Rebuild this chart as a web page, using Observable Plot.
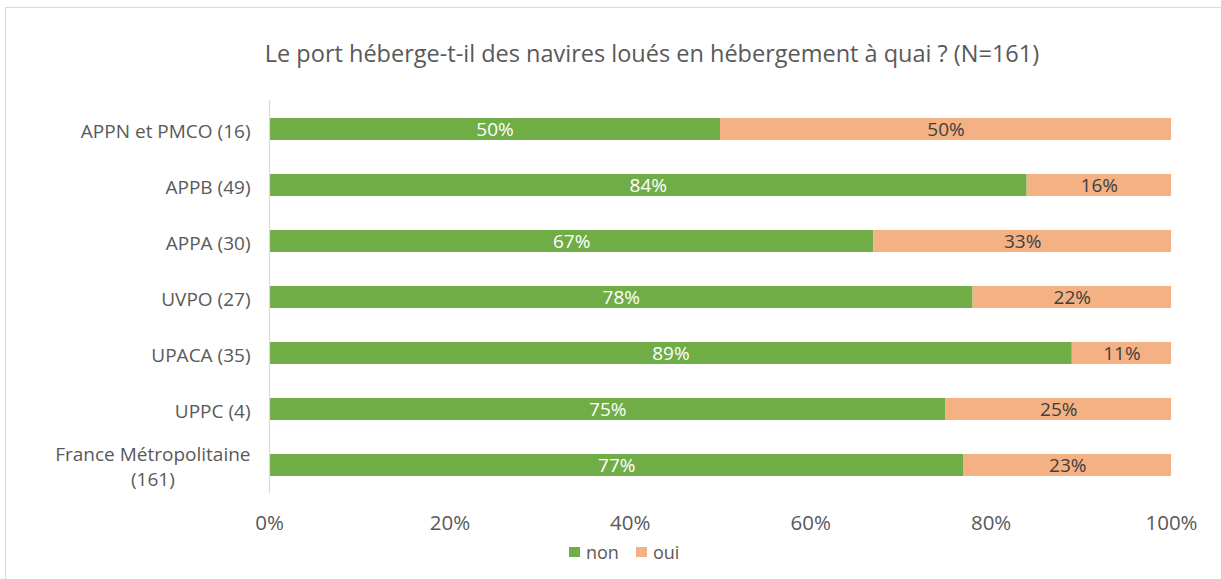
<!DOCTYPE html>
<html>
<head>
<meta charset="utf-8">
<script src="https://cdn.jsdelivr.net/npm/d3@7"></script>
<script src="https://cdn.jsdelivr.net/npm/@observablehq/plot@0.6"></script>
<style>
  html, body { margin: 0; padding: 0; background: #fff; }
  #wrap { position: relative; width: 1221px; height: 579px; overflow: hidden; font-family: "Open Sans", sans-serif; }
  #frame { position: absolute; left: 5px; top: 7px; width: 1400px; height: 700px; border: 1px solid #d9d9d9; box-sizing: border-box; }
  #title { position: absolute; left: 0; width: 1304px; top: 37px; text-align: center; font-size: 23.5px; color: #595959; line-height: 32px; white-space: nowrap; }
  #chart { position: absolute; left: 0; top: 80px; }
  #legend { position: absolute; left: 569px; top: 540px; font-size: 18px; color: #595959; display: flex; align-items: center; line-height: 24px; white-space: nowrap; }
  .sw { display: inline-block; width: 11px; height: 10px; margin-right: 6px; }
  .item { display: flex; align-items: center; margin-right: 17px; }
</style>
</head>
<body>
<div id="wrap">
  <div id="frame"></div>
  <div id="title">Le port héberge-t-il des navires loués en hébergement à quai ? (N=161)</div>
  <div id="chart"></div>
  <div id="legend"></div>
</div>
<script>
const categories = ["APPN et PMCO (16)", "APPB (49)", "APPA (30)", "UVPO (27)", "UPACA (35)", "UPPC (4)", "France Métropolitaine (161)"];
const categoryLabels = ["APPN et PMCO (16)", "APPB (49)", "APPA (30)", "UVPO (27)", "UPACA (35)", "UPPC (4)", "France Métropolitaine\n(161)"];
const nonValues = [50, 84, 67, 78, 89, 75, 77];
const ouiValues = [50, 16, 33, 22, 11, 25, 23];
const responses = ["non", "oui"];
const colors = ["#70AD47", "#F4B183"];
const xTicks = [0, 20, 40, 60, 80, 100];

const data = [];
categories.forEach((c, i) => {
  data.push({cat: c, resp: "non", value: nonValues[i]});
  data.push({cat: c, resp: "oui", value: ouiValues[i]});
});
const labelOf = new Map(categories.map((c, i) => [c, categoryLabels[i]]));

const chart = Plot.plot({
  width: 1221,
  height: 460,
  marginLeft: 269,
  marginRight: 50,
  marginTop: 20,
  marginBottom: 47,
  style: {fontFamily: "Open Sans, sans-serif", background: "transparent"},
  x: {domain: [0, 100], ticks: xTicks, tickFormat: d => d + "%"},
  y: {domain: categories, paddingInner: 0.61, paddingOuter: 0.305},
  color: {domain: responses, range: colors},
  marks: [
    Plot.barX(data, {x: "value", y: "cat", fill: "resp"}),
    Plot.text(data.filter(d => d.resp === "non"), Plot.stackX({x: "value", y: "cat", text: d => d.value + "%", fill: "#ffffff", fontSize: 19})),
    Plot.text(data, Plot.stackX({x: "value", y: "cat", text: d => d.resp === "oui" ? d.value + "%" : "", fill: "#404040", fontSize: 19})),
    Plot.ruleX([0], {stroke: "#d9d9d9", strokeWidth: 1.2}),
    Plot.axisX({ticks: xTicks, tickFormat: d => d + "%", tickSize: 0, tickPadding: 22, fontSize: 20.5, fill: "#595959", label: null}),
    Plot.axisY({tickSize: 0, tickPadding: 19, fontSize: 19, fill: "#595959", label: null, tickFormat: d => labelOf.get(d), lineHeight: 1.32})
  ]
});
document.getElementById("chart").appendChild(chart);

// centre the two-line label horizontally, keeping its right edge
chart.querySelectorAll("text").forEach(t => {
  if (t.textContent.includes("France")) {
    const w = t.getBBox().width;
    t.setAttribute("text-anchor", "middle");
    const tr = t.getAttribute("transform") || "";
    t.setAttribute("transform", tr + ` translate(${-w / 2},0)`);
  }
});

const legend = document.getElementById("legend");
responses.forEach((r, i) => {
  const item = document.createElement("span");
  item.className = "item";
  const sw = document.createElement("span");
  sw.className = "sw";
  sw.style.background = colors[i];
  item.appendChild(sw);
  item.appendChild(document.createTextNode(r));
  legend.appendChild(item);
});
</script>
</body>
</html>
